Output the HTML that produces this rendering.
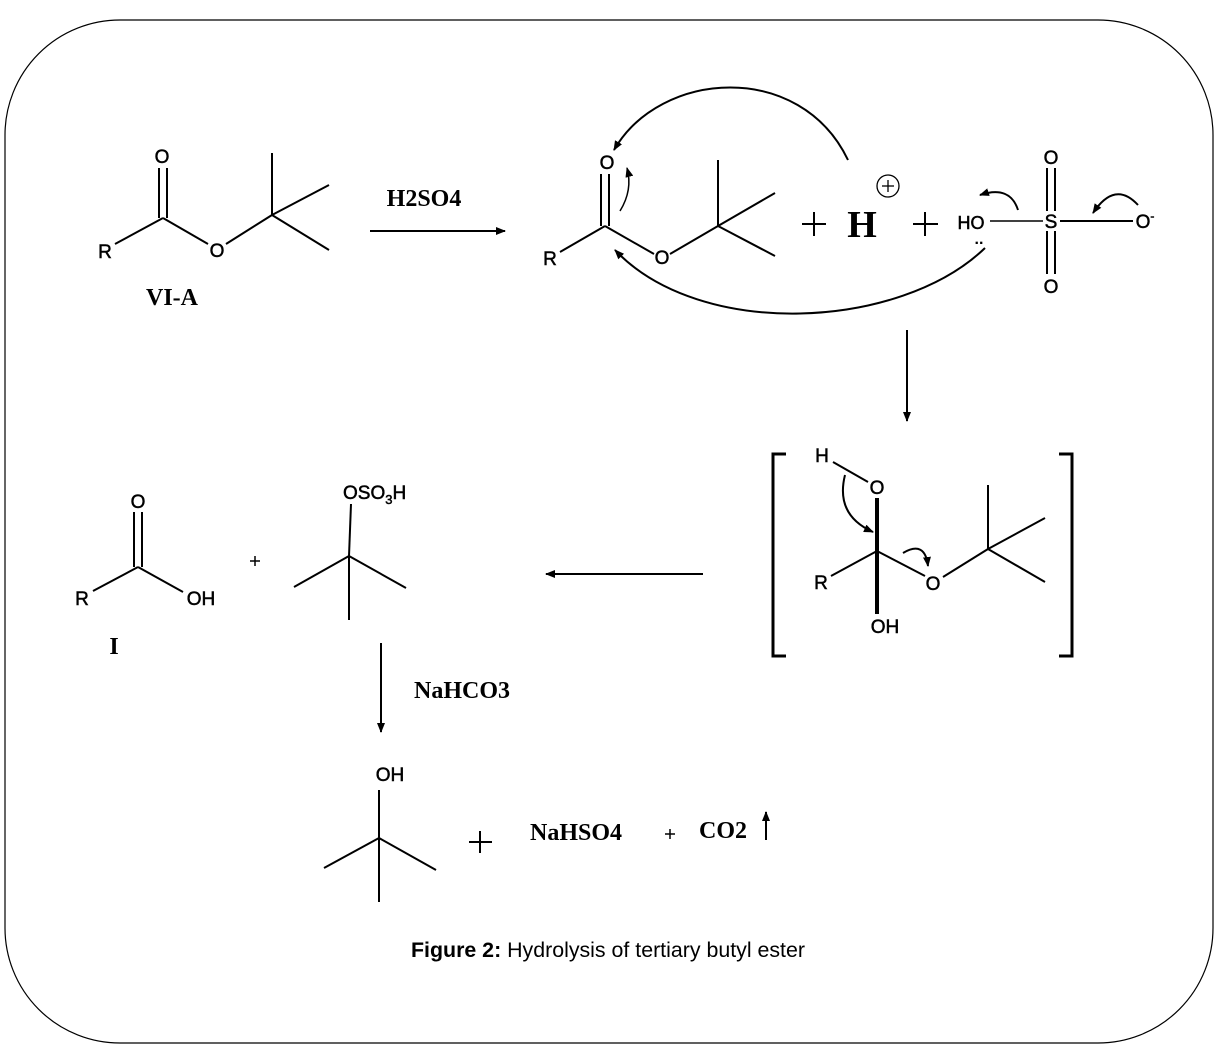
<!DOCTYPE html>
<html><head><meta charset="utf-8"><style>
html,body{margin:0;padding:0;background:#fff;}
svg{display:block;}
.a{font-family:"Liberation Sans",Arial,sans-serif;font-size:19px;fill:#000;stroke:#000;stroke-width:0.5;}
.s{font-family:"Liberation Serif",serif;font-weight:bold;font-size:24px;fill:#000;}
</style></head><body>
<svg width="1218" height="1048" viewBox="0 0 1218 1048" xmlns="http://www.w3.org/2000/svg">
<defs>
<marker id="ar" markerWidth="10" markerHeight="8" refX="9" refY="4" orient="auto" markerUnits="userSpaceOnUse"><path d="M0,0 L10,4 L0,8 Z" fill="#000"/></marker>
</defs>
<rect x="5" y="20" width="1208" height="1023" rx="115" ry="115" fill="none" stroke="#000" stroke-width="1.2"/>
<g stroke="#000" stroke-width="2" fill="none">
<line x1="115" y1="244" x2="163" y2="218"/>
<line x1="159" y1="168" x2="159" y2="218"/><line x1="167" y1="168" x2="167" y2="218"/>
<line x1="163" y1="218" x2="208" y2="244"/>
<line x1="226" y1="244" x2="272" y2="215"/>
<line x1="272" y1="153" x2="272" y2="215"/><line x1="272" y1="215" x2="329" y2="185"/><line x1="272" y1="215" x2="329" y2="250"/>
<line x1="370" y1="231" x2="505" y2="231" marker-end="url(#ar)"/>
<line x1="560" y1="252" x2="605" y2="226"/>
<line x1="601" y1="174" x2="601" y2="226"/><line x1="609" y1="174" x2="609" y2="226"/>
<line x1="605" y1="226" x2="654" y2="254"/>
<line x1="670" y1="254" x2="718" y2="226"/>
<line x1="718" y1="160" x2="718" y2="226"/><line x1="718" y1="226" x2="775" y2="193"/><line x1="718" y1="226" x2="775" y2="256"/>
<path d="M620,211 Q633,190 627,168" marker-end="url(#ar)" stroke-width="1.5"/>
<path d="M848,160 C800,60 660,70 614,150" marker-end="url(#ar)"/>
<path d="M985,248 C900,330 700,340 615,250" marker-end="url(#ar)"/>
<line x1="802" y1="224" x2="826" y2="224"/><line x1="814" y1="212" x2="814" y2="236"/>
<line x1="913" y1="224" x2="938" y2="224"/><line x1="925" y1="212" x2="925" y2="236"/>
<circle cx="888" cy="186" r="11" stroke-width="1.3"/>
<line x1="882" y1="186" x2="894" y2="186" stroke-width="1.3"/><line x1="888" y1="180" x2="888" y2="192" stroke-width="1.3"/>
<line x1="990" y1="221" x2="1043" y2="221" stroke-width="1.5"/>
<line x1="1060" y1="221" x2="1133" y2="221"/>
<line x1="1047" y1="168" x2="1047" y2="211"/><line x1="1055" y1="168" x2="1055" y2="211"/>
<line x1="1047" y1="231" x2="1047" y2="274"/><line x1="1055" y1="231" x2="1055" y2="274"/>
<path d="M1018,210 Q1010,185 980,195" marker-end="url(#ar)"/>
<path d="M1138,205 Q1115,180 1093,213" marker-end="url(#ar)"/>
<line x1="907" y1="330" x2="907" y2="421" marker-end="url(#ar)"/>
<path d="M786,454 L773,454 L773,656 L786,656" stroke-width="3"/>
<path d="M1059,454 L1072,454 L1072,656 L1059,656" stroke-width="3"/>
<line x1="833" y1="462" x2="868" y2="482"/>
<line x1="877" y1="498" x2="877" y2="614" stroke-width="4"/>
<line x1="831" y1="576" x2="877" y2="551"/>
<line x1="877" y1="551" x2="925" y2="576"/>
<line x1="943" y1="577" x2="988" y2="549"/>
<line x1="988" y1="485" x2="988" y2="549"/><line x1="988" y1="549" x2="1045" y2="518"/><line x1="988" y1="549" x2="1045" y2="582"/>
<path d="M845,475 Q835,515 873,532" marker-end="url(#ar)"/>
<path d="M903,553 Q925,540 928,566" marker-end="url(#ar)"/>
<line x1="703" y1="574" x2="546" y2="574" marker-end="url(#ar)"/>
<line x1="93" y1="591" x2="138" y2="567"/>
<line x1="134" y1="512" x2="134" y2="567"/><line x1="142" y1="512" x2="142" y2="567"/>
<line x1="138" y1="567" x2="183" y2="592"/>
<line x1="250" y1="561" x2="260" y2="561" stroke-width="1.5"/><line x1="255" y1="556" x2="255" y2="566" stroke-width="1.5"/>
<line x1="351" y1="504" x2="349" y2="556"/><line x1="349" y1="556" x2="294" y2="587"/><line x1="349" y1="556" x2="406" y2="588"/><line x1="349" y1="556" x2="349" y2="620"/>
<line x1="381" y1="643" x2="381" y2="732" marker-end="url(#ar)"/>
<line x1="379" y1="790" x2="379" y2="838"/><line x1="379" y1="838" x2="324" y2="868"/><line x1="379" y1="838" x2="436" y2="870"/><line x1="379" y1="838" x2="379" y2="902"/>
<line x1="469" y1="842" x2="492" y2="842"/><line x1="480" y1="831" x2="480" y2="853"/>
<line x1="665" y1="834" x2="675" y2="834" stroke-width="1.5"/><line x1="670" y1="829" x2="670" y2="839" stroke-width="1.5"/>
<line x1="766" y1="840" x2="766" y2="812" marker-end="url(#ar)"/>
</g>
<g class="a" text-anchor="middle">
<text x="162" y="163">O</text><text x="105" y="258">R</text><text x="217" y="257">O</text>
<text x="607" y="169">O</text><text x="550" y="265">R</text><text x="662" y="264">O</text>
<text x="971" y="229" font-size="18">HO</text>
<text x="1051" y="164">O</text><text x="1051" y="228">S</text><text x="1051" y="293">O</text>
<text x="1145" y="228">O<tspan font-size="12" dy="-8">-</tspan></text>
<text x="877" y="494">O</text><text x="822" y="462">H</text><text x="821" y="589">R</text><text x="933" y="590">O</text><text x="885" y="633">OH</text>
<text x="138" y="508">O</text><text x="82" y="605">R</text><text x="201" y="605">OH</text>
<text x="390" y="781">OH</text>
</g>
<text x="979" y="244" font-family="Liberation Sans" font-size="16" font-weight="bold" text-anchor="middle">..</text>
<text class="a" x="343" y="499">OSO<tspan font-size="13" dy="5">3</tspan><tspan dy="-5">H</tspan></text>
<g class="s" text-anchor="middle">
<text x="172" y="305">VI-A</text><text x="424" y="206">H2SO4</text>
<text x="862" y="237" font-size="38">H</text>
<text x="114" y="654">I</text>
<text x="462" y="698">NaHCO3</text><text x="576" y="840">NaHSO4</text><text x="723" y="838">CO2</text>
</g>
<text x="608" y="957" text-anchor="middle" font-family="Liberation Sans, sans-serif" font-size="21" textLength="394" lengthAdjust="spacingAndGlyphs"><tspan font-weight="bold">Figure 2:</tspan> Hydrolysis of tertiary butyl ester</text>
</svg>
</body></html>
